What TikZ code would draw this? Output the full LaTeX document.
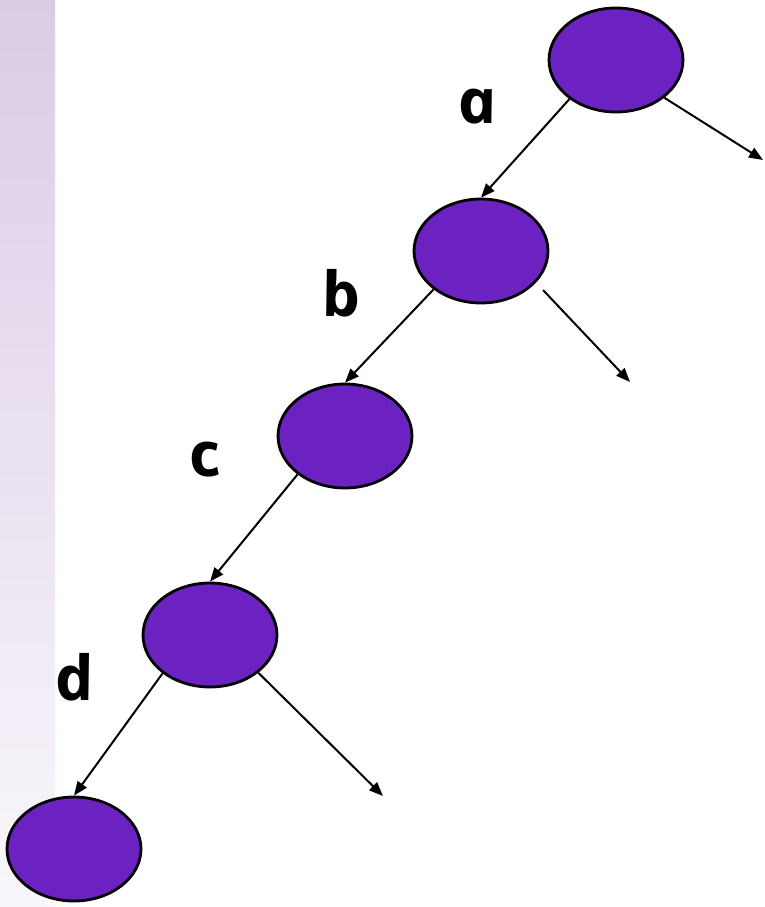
\documentclass[tikz,border=0pt]{standalone}
\usepackage{fontspec}
\newfontfamily\lblfont[BoldItalicFeatures={FakeSlant=-0.21,FakeStretch=1.06},ItalicFeatures={FakeSlant=-0.21}]{Open Sans}
\usetikzlibrary{arrows.meta,shapes.geometric}
\definecolor{nodefill}{RGB}{108,33,193}
\definecolor{striptop}{RGB}{219,204,230}
\definecolor{stripbot}{RGB}{249,247,251}
\tikzset{
  treenode/.style={ellipse,draw=black,line width=2.8pt,fill=nodefill,minimum width=134pt,minimum height=104pt,inner sep=0pt},
  edge/.style={line width=2pt,-{Triangle[length=14pt,width=11pt]}},
  lbl/.style={font=\fontsize{62}{62}\lblfont\bfseries\itshape,anchor=base,inner sep=0pt}
}
\begin{document}
\begin{tikzpicture}[x=1pt,y=-1pt]
\useasboundingbox (0,0) rectangle (764,907);
\fill[fill=white] (0,0) rectangle (764,907);
\shade[top color=striptop,bottom color=stripbot] (0,0) rectangle (55,907);
\node[treenode] (n1) at (616,60) {};
\node[treenode] (n2) at (481,251) {};
\node[treenode] (n3) at (345,436) {};
\node[treenode] (n4) at (210,635) {};
\node[treenode] (n5) at (74,849) {};
\coordinate (r1) at (763,160);
\coordinate (s2) at (543,290);
\coordinate (r2) at (630,382);
\coordinate (r4) at (383,796);
\draw[edge] (n1.{-140}) -- (n2.north);
\draw[edge] (n1.{-38}) -- (r1);
\draw[edge] (n2.{-141}) -- (n3.north);
\draw[edge] (s2) -- (r2);
\draw[edge] (n3.{-141}) -- (n4.north);
\draw[edge] (n4.{-141}) -- (n5.north);
\draw[edge] (n4.{-38}) -- (r4);
\node[lbl] (la) at (481,123) {a};
\node[lbl] (lb) at (345,316) {b};
\node[lbl] (lc) at (208,476) {c};
\node[lbl] (ld) at (78,700) {d};
\end{tikzpicture}
\end{document}
